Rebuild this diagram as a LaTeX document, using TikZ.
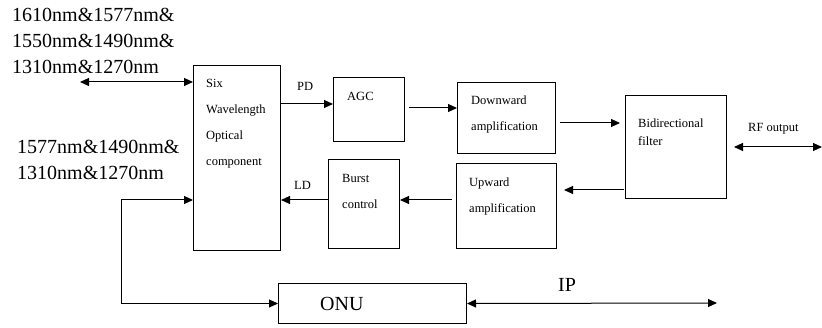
\documentclass[tikz,border=0pt]{standalone}
\usepackage{fontspec}
\setmainfont{Liberation Serif}
\usetikzlibrary{arrows.meta}
\tikzset{
  blk/.style={draw, line width=1pt, inner sep=0pt, anchor=north west},
  txt/.style={inner sep=0pt, anchor=north west, align=left, font=\fontsize{12.5}{26}\selectfont},
  bigtxt/.style={inner sep=0pt, anchor=north west, align=left, font=\fontsize{20}{26}\selectfont},
  tip/.tip={Triangle[length=9pt,width=8pt]},
  conn/.style={line width=1pt, -tip},
  bconn/.style={line width=1pt, tip-tip}
}
\begin{document}
\begin{tikzpicture}[x=1pt, y=-1pt]
\useasboundingbox (0,0) rectangle (822,328);

% blocks
\node[blk, minimum width=87pt, minimum height=185pt] (six) at (193,65) {};
\node[blk, minimum width=71pt, minimum height=64pt] (agc) at (333,77) {};
\node[blk, minimum width=71pt, minimum height=89pt] (burst) at (328,159) {};
\node[blk, minimum width=98pt, minimum height=71pt] (down) at (457,82) {};
\node[blk, minimum width=100pt, minimum height=85pt] (up) at (456,163) {};
\node[blk, minimum width=101pt, minimum height=103pt] (filt) at (625,95) {};
\node[blk, minimum width=188pt, minimum height=40pt] (onu) at (278,283) {};

% block texts
\node[txt] (sixT) at (206,79) {Six\\Wavelength\\Optical\\component};
\node[txt] (agcT) at (347,92) {AGC};
\node[txt] (burstT) at (342,174) {Burst\\control};
\node[txt] (downT) at (471,96) {Downward\\amplification};
\node[txt] (upT) at (469,178) {Upward\\amplification};
\node[txt, font=\fontsize{12.5}{18}\selectfont] (filtT) at (638,119) {Bidirectional\\filter};
\node[bigtxt] (onuT) at (320,297) {ONU};

% wavelength labels
\node[bigtxt] (wl1) at (12,8) {1610nm\&1577nm\&\\1550nm\&1490nm\&\\1310nm\&1270nm};
\node[bigtxt] (wl2) at (17,140) {1577nm\&1490nm\&\\1310nm\&1270nm};

% signal labels
\node[txt] (pd) at (297,82) {PD};
\node[txt] (ld) at (294,181) {LD};
\node[txt] (rf) at (748,123) {RF output};
\node[bigtxt] (ip) at (558,278) {IP};

% free ends
\coordinate (fiber) at (80,82);
\coordinate (bend) at (121,200);
\coordinate (rfend) at (822,147);
\coordinate (ipend) at (717,303);

% connectors
\draw[bconn] (fiber) -- (fiber -| six.west);
\draw[bconn] (bend -| six.west) -- (bend) |- (onu.west);
\draw[conn] (six.east |- 0,104) -- (agc.west |- 0,104);
\draw[conn, shorten <=4pt] (agc.east |- 0,108) -- (down.west |- 0,108);
\draw[conn, shorten <=4pt, shorten >=5pt] (down.east |- 0,123) -- (filt.west |- 0,123);
\draw[conn, shorten <=1pt, shorten >=7pt] (filt.west |- 0,190) -- (up.east |- 0,190);
\draw[conn, shorten <=4pt] (up.west |- 0,200) -- (burst.east |- 0,200);
\draw[conn] (burst.west |- 0,200) -- (six.east |- 0,200);
\draw[bconn, shorten <=7pt] (filt.east |- rfend) -- (rfend);
\draw[bconn] (onu.east) -- (ipend);
\end{tikzpicture}
\end{document}
